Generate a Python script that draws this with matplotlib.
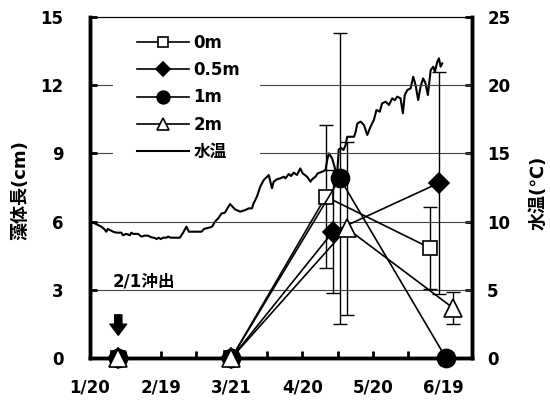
import matplotlib
matplotlib.use('Agg')
import matplotlib.pyplot as plt
from matplotlib.patches import Rectangle

plt.rcParams.update({
    'font.family': ['DejaVu Sans', 'Noto Sans CJK JP'],
    'font.weight': 'bold',
    'axes.labelweight': 'bold',
    'font.size': 12,
    'axes.linewidth': 2.5,
    'xtick.direction': 'in',
    'ytick.direction': 'in',
})

# x positions are days counted from 1/20
tick_days = [0, 30, 60, 90, 120, 150]
minor_days = [15, 45, 75, 105, 135]
tick_labels = ['1/20', '2/19', '3/21', '4/20', '5/20', '6/19']
grid_levels = [3, 6, 9, 12]

# thallus length (cm), mean and SD per depth
days_0m = [12, 60, 100, 144]
len_0m = [0, 0, 7.1, 4.85]
sd_0m = [0, 0, 3.15, 1.8]

days_05m = [12, 60, 103, 148]
len_05m = [0, 0, 5.55, 7.7]
sd_05m = [0, 0, 2.7, 4.9]

days_1m = [12, 60, 106, 151]
len_1m = [0, 0, 7.9, 0]
sd_1m = [0, 0, 6.4, 0]

days_2m = [12, 60, 109, 154]
len_2m = [0, 0, 5.7, 2.2]
sd_2m = [0, 0, 3.8, 0.7]

# daily water temperature (deg C)
temp_day = [0, 2, 4.8, 6.2, 6.9, 7.6, 9.8, 11.2, 13.3, 14,
            15.4, 16.9, 17.6, 18.3, 20.4, 21.8, 23.2, 24.6, 26, 27.5,
            28.2, 29.2, 30, 31, 32.4, 33.1, 34.3, 35.7, 38.1, 39.5,
            40.9, 41.9, 47.3, 48.4, 50.9, 51.8, 53, 54.4, 55.8, 57.2,
            59.4, 61.5, 63.7, 65.9, 67.3, 68.7, 69.4, 70.8, 72.2, 73.7,
            75.1, 75.8, 76.5, 77.2, 77.9, 79.3, 80.7, 82.2, 82.9, 84.3,
            85.3, 86.4, 87.8, 89.2, 90.2, 92.1, 93.5, 94.2, 95.6, 96.6,
            98.5, 99.9, 100.6, 101.3, 102.7, 104.1, 104.8, 105.5, 106.5, 107.5,
            108.4, 109.1, 112, 112.7, 113.4, 114.8, 116.2, 117.6, 119, 120.4,
            121.5, 122.9, 123.9, 125.4, 126.8, 128.2, 129.3, 130.3, 131.7, 132.7,
            133.5, 134.6, 136, 137.1, 138.1, 139.2, 140.2, 141.3, 142.3, 143.3,
            144.5, 145.6, 146.3, 147.3, 148, 148.7, 149.4]
temp = [10.0, 9.87, 9.63, 9.43, 9.26, 9.46, 9.26, 9.19, 9.19, 9.0,
        9.1, 9.0, 9.19, 9.1, 9.1, 8.9, 8.97, 8.97, 8.85, 8.8,
        8.72, 8.82, 8.72, 8.82, 8.82, 8.9, 8.82, 8.82, 8.82, 9.19,
        9.63, 9.26, 9.26, 9.46, 9.58, 9.63, 9.99, 10.24, 10.6, 10.65,
        11.29, 10.9, 10.73, 10.85, 10.97, 10.97, 11.34, 11.83, 12.56, 13.05,
        13.29, 13.42, 12.93, 12.44, 12.93, 13.1, 13.17, 13.29, 13.17, 13.49,
        13.34, 13.59, 13.42, 13.9, 13.54, 13.29, 12.93, 13.1, 13.29, 13.54,
        13.66, 13.78, 14.52, 15.0, 14.64, 13.78, 13.4, 15.3, 15.4, 15.25,
        15.6, 16.22, 16.22, 16.6, 17.2, 17.33, 17.08, 16.35, 16.96, 17.45,
        18.18, 18.06, 18.67, 18.79, 18.55, 19.04, 18.9, 19.16, 19.04, 17.94,
        19.28, 19.65, 19.77, 20.62, 20.0, 18.91, 19.89, 20.5, 20.14, 19.28,
        21.11, 21.36, 20.99, 21.72, 21.97, 21.36, 21.6]

series = [
    ('0m', days_0m, len_0m, sd_0m, 's', 'white', 9.5),
    ('0.5m', days_05m, len_05m, sd_05m, 'D', 'black', 10),
    ('1m', days_1m, len_1m, sd_1m, 'o', 'black', 13),
    ('2m', days_2m, len_2m, sd_2m, '^', 'white', 13),
]

fig = plt.figure(figsize=(5.5, 4.01), dpi=100)
ax = fig.add_axes([0.1636, 0.1072, 0.6945, 0.8504])
ax2 = ax.twinx()
# length series sit above the temperature trace
ax.set_zorder(ax2.get_zorder() + 1)
ax.patch.set_visible(False)

t_line, = ax2.plot(temp_day, temp, color='black', lw=1.5)

handles = []
for label, d, v, sd, mk, face, ms in series:
    keep = [i for i, s in enumerate(sd) if s > 0]
    ax.errorbar([d[i] for i in keep], [v[i] for i in keep],
                yerr=[sd[i] for i in keep], fmt='none', ecolor='black',
                elinewidth=1.0, capsize=5, capthick=1.0, zorder=2)
    h, = ax.plot(d, v, color='black', lw=1.2, marker=mk, mfc=face,
                 mec='black', ms=ms, mew=1.2, label=label, zorder=3,
                 clip_on=False)
    handles.append(h)
t_line.set_label('水温')
handles.append(t_line)

ax.set_xlim(0, 162)
ax.set_ylim(0, 15)
ax2.set_ylim(0, 25)
ax.set_xticks(tick_days, tick_labels)
ax.set_xticks(minor_days, minor=True)
ax.set_yticks(range(0, 16, 3))
ax2.set_yticks(range(0, 26, 5))
ax.tick_params(axis='x', which='both', length=5, width=2, pad=15)
ax.tick_params(axis='y', length=5, width=2, pad=19)
ax2.tick_params(axis='y', length=5, width=2, pad=11)

for g in grid_levels:
    ax.axhline(g, color='#444444', lw=0.8, zorder=0.5)
for a in (ax, ax2):
    a.spines['top'].set_linewidth(0.8)

ax.set_ylabel('藻体長(cm)', fontsize=13)
ax.yaxis.set_label_coords(-0.16, 0.493)
ax2.set_ylabel('水温(℃)', fontsize=13)
ax2.yaxis.set_label_coords(1.152, 0.484)

ax.text(9.8, 3.37, '2/1沖出', fontsize=12, ha='left', va='center')
ax.annotate('', xy=(12, 1.0), xytext=(12, 1.9),
            arrowprops=dict(arrowstyle='simple,head_length=0.4,head_width=0.6,tail_width=0.26',
                            fc='black', ec='black', mutation_scale=20,
                            shrinkA=0, shrinkB=0))

# blank backing behind the legend so the gridlines stop there
ax.add_patch(Rectangle((0.06, 0.57), 0.385, 0.41, transform=ax.transAxes,
                       facecolor='white', edgecolor='none', zorder=1))
ax.legend(handles=handles, loc='upper left', bbox_to_anchor=(0.123, 0.95),
          frameon=False, handlelength=3.1, handletextpad=0.3,
          labelspacing=0.55, borderpad=0, borderaxespad=0,
          markerscale=0.7, fontsize=12)

fig.savefig('out.png', dpi=100)
